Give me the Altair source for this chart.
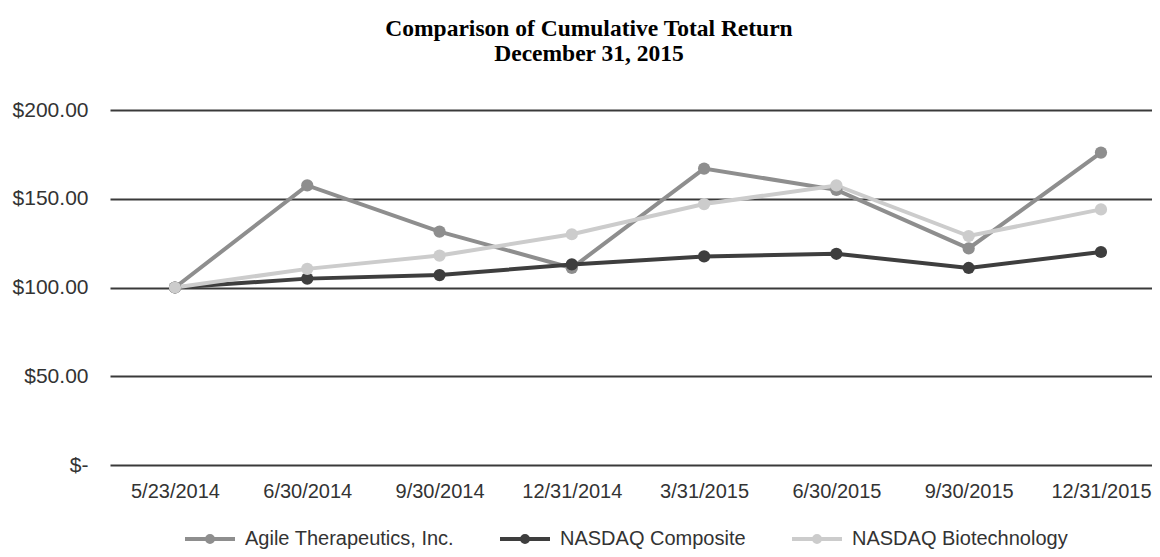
import altair as alt
import pandas as pd

dates = ["5/23/2014", "6/30/2014", "9/30/2014", "12/31/2014",
         "3/31/2015", "6/30/2015", "9/30/2015", "12/31/2015"]
agile = [100, 157.5, 131.5, 111, 167, 155, 122, 176]
composite = [100, 105, 107, 113, 117.5, 119, 111, 120]
biotech = [100, 110.5, 118, 130, 147, 157.5, 129, 144]
series = ["Agile Therapeutics, Inc.", "NASDAQ Composite", "NASDAQ Biotechnology"]
colors = ["#8e8e8e", "#3e3e3e", "#cccccc"]
y_ticks = [0, 50, 100, 150, 200]

rows = []
for name, vals in zip(series, [agile, composite, biotech]):
    for d, v in zip(dates, vals):
        rows.append({"date": d, "series": name, "value": v})
df = pd.DataFrame(rows)

legend_path = ("M-1,0L1,0"
               "M0.12,0A0.12,0.12,0,1,1,-0.12,0A0.12,0.12,0,1,1,0.12,0"
               "M0.04,0A0.04,0.04,0,1,1,-0.04,0A0.04,0.04,0,1,1,0.04,0")

x_enc = alt.X("date:N", sort=dates,
              scale=alt.Scale(type="point", domain=dates, padding=0.4385, align=0.56),
              axis=alt.Axis(title=None, domain=False, ticks=False, grid=False,
                            labelAngle=0, labelPadding=16, labelFontSize=20,
                            labelFont="Liberation Sans", labelColor="#333333"))
y_enc = alt.Y("value:Q",
              scale=alt.Scale(domain=[0, 200], nice=False),
              axis=alt.Axis(title=None, domain=False, ticks=False, values=y_ticks,
                            grid=True, gridColor="#3a3a3a", gridWidth=2,
                            labelPadding=22, labelFontSize=21,
                            labelFont="Liberation Sans", labelColor="#333333",
                            labelExpr="datum.value == 0 ? '$-' : '$' + format(datum.value, '.2f')"))
color_enc = alt.Color("series:N", sort=series,
                      scale=alt.Scale(domain=series, range=colors),
                      legend=alt.Legend(title=None, orient="none", direction="horizontal",
                                        legendX=73, legendY=402, padding=0,
                                        symbolType=legend_path, symbolSize=2500,
                                        symbolStrokeWidth=4, labelOffset=8,
                                        columnPadding=38, labelFontSize=20,
                                        labelFont="Liberation Sans", labelColor="#333333",
                                        labelLimit=400))

base = alt.Chart(df).encode(x=x_enc, y=y_enc, color=color_enc)
lines = base.mark_line(strokeWidth=4)
points = base.mark_circle(size=150, opacity=1)

chart = alt.layer(lines, points).properties(
    width=1042,
    height=355,
    title=alt.TitleParams(["Comparison of Cumulative Total Return", "December 31, 2015"],
                          font="Liberation Serif", fontSize=23.5, fontWeight="bold",
                          color="black", anchor="middle", frame="group", dx=-42,
                          offset=34, lineHeight=25),
    autosize=alt.AutoSizeParams(type="none"),
    padding={"left": 102, "top": 102, "right": 0, "bottom": 84},
).configure_view(stroke=None)

chart.save("out.html", embed_options={"renderer": "svg", "actions": False})
